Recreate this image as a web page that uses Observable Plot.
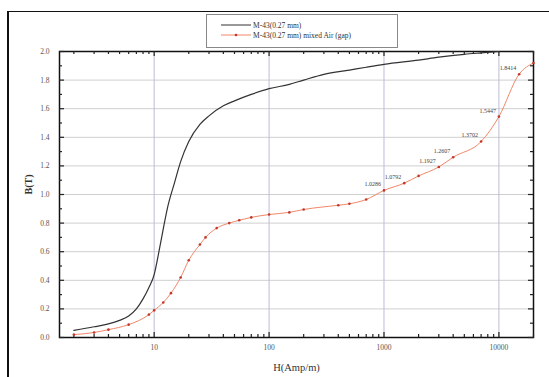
<!DOCTYPE html>
<html><head><meta charset="utf-8">
<script src="https://cdn.jsdelivr.net/npm/d3@7"></script>
<script src="https://cdn.jsdelivr.net/npm/@observablehq/plot@0.6"></script>
<style>
body{margin:0;background:#fff;}
#wrap{position:relative;width:549px;height:377px;overflow:hidden;background:#fff;font-family:"Liberation Serif","DejaVu Serif",serif;}
#chart{position:absolute;left:0;top:0;}
#frame{position:absolute;left:7px;top:11px;width:600px;height:420px;border-left:2px solid #111;border-top:1.5px solid #111;pointer-events:none;}
#legend{position:absolute;left:206px;top:14px;width:190px;height:32px;border:1px solid #888;background:#fff;font-size:7.5px;color:#333;}
#legend .row{position:absolute;left:14px;height:10px;display:flex;align-items:center;white-space:nowrap;}
#legend svg{margin-right:2px;}
</style></head><body>
<div id="wrap"><div id="chart"></div><div id="frame"></div><div id="legend"></div></div>
<script>
const seriesNames = ["M-43(0.27 mm)", "M-43(0.27 mm) mixed Air (gap)"];
// Series 1: M-43(0.27 mm)
const blackH = [2, 3, 4, 5, 6, 7, 8, 9, 10, 11, 12, 13, 15, 17, 20, 25, 30, 40, 50, 70, 100, 150, 200, 300, 500, 700, 1000, 2000, 3000, 5000, 7000, 10000];
const blackB = [0.05, 0.075, 0.095, 0.12, 0.15, 0.2, 0.27, 0.35, 0.44, 0.6, 0.76, 0.9, 1.08, 1.23, 1.37, 1.49, 1.55, 1.62, 1.655, 1.70, 1.74, 1.77, 1.80, 1.84, 1.87, 1.89, 1.91, 1.94, 1.96, 1.98, 1.99, 2.0];
// Series 2: mixed with air gap
const orangeH = [2, 3, 4, 6, 9, 10, 12, 14, 17, 20, 25, 28, 35, 45, 55, 70, 100, 150, 200, 400, 500, 700, 1000, 1500, 2000, 3000, 4000, 7000, 10000, 15000, 20000];
const orangeB = [0.02, 0.035, 0.055, 0.09, 0.16, 0.19, 0.245, 0.31, 0.42, 0.54, 0.65, 0.70, 0.765, 0.80, 0.82, 0.84, 0.86, 0.875, 0.895, 0.925, 0.935, 0.965, 1.0286, 1.0792, 1.13, 1.1927, 1.2607, 1.3702, 1.5447, 1.8414, 1.92];
// Annotated points (value labels)
const labelH = [1000, 1500, 3000, 4000, 7000, 10000, 15000];
const labelB = [1.0286, 1.0792, 1.1927, 1.2607, 1.3702, 1.5447, 1.8414];
// Ticks
const xMajor = [10, 100, 1000, 10000];
const xMinor = [2,3,4,5,6,7,8,9,20,30,40,50,60,70,80,90,200,300,400,500,600,700,800,900,2000,3000,4000,5000,6000,7000,8000,9000,20000];
const yMajor = [0, 0.2, 0.4, 0.6, 0.8, 1.0, 1.2, 1.4, 1.6, 1.8, 2.0];
const yMinor = [0.1, 0.3, 0.5, 0.7, 0.9, 1.1, 1.3, 1.5, 1.7, 1.9];

const black = blackH.map((h, i) => ({H: h, B: blackB[i]}));
const orange = orangeH.map((h, i) => ({H: h, B: orangeB[i]}));
const labels = labelH.map((h, i) => ({H: h, B: labelB[i]}));

const W = 549, Ht = 377, mL = 59, mR = 16, mT = 51, mB = 40;
const fw = W - mL - mR, fh = Ht - mT - mB;
const xDom = [1.5, 20000], yDom = [0, 2];
const tk = "#222";
const tw = 1.2;

const chart = Plot.plot({
  width: W, height: Ht,
  marginLeft: mL, marginRight: mR, marginTop: mT, marginBottom: mB,
  style: {background: "transparent", fontFamily: "'Liberation Serif', 'DejaVu Serif', serif", color: "#555"},
  x: {type: "log", domain: xDom},
  y: {domain: yDom},
  marks: [
    Plot.gridY(yMajor, {stroke: "#cfcfcf", strokeOpacity: 1}),
    Plot.gridX(xMajor, {stroke: "#bcbcd8", strokeOpacity: 1}),
    Plot.axisY(yMajor, {tickSize: 0, tickPadding: 10, tickFormat: d => d.toFixed(1), fontSize: 7.5, label: null}),
    Plot.axisX(xMajor, {tickSize: 0, tickPadding: 7, tickFormat: d => String(d), fontSize: 7.5, label: null}),
    Plot.frame({stroke: "#111", strokeWidth: 1.5}),
    // inward ticks on all four sides
    Plot.tickY(yMajor, {y: d => d, insetRight: fw - 5, stroke: tk, strokeWidth: tw}),
    Plot.tickY(yMinor, {y: d => d, insetRight: fw - 3, stroke: tk, strokeWidth: tw}),
    Plot.tickY(yMajor, {y: d => d, insetLeft: fw - 5, stroke: tk, strokeWidth: tw}),
    Plot.tickY(yMinor, {y: d => d, insetLeft: fw - 3, stroke: tk, strokeWidth: tw}),
    Plot.tickX(xMajor, {x: d => d, insetTop: fh - 5, stroke: tk, strokeWidth: tw}),
    Plot.tickX(xMinor, {x: d => d, insetTop: fh - 3, stroke: tk, strokeWidth: tw}),
    Plot.tickX(xMajor, {x: d => d, insetBottom: fh - 5, stroke: tk, strokeWidth: tw}),
    Plot.tickX(xMinor, {x: d => d, insetBottom: fh - 3, stroke: tk, strokeWidth: tw}),
    Plot.line(black, {x: "H", y: "B", stroke: "#333", strokeWidth: 1.2, curve: "monotone-x"}),
    Plot.line(orange, {x: "H", y: "B", stroke: "#f2876a", strokeWidth: 1, curve: "monotone-x"}),
    Plot.dot(orange, {x: "H", y: "B", r: 1.3, fill: "#c0392b", stroke: null}),
    Plot.text(labels, {x: "H", y: "B", text: d => d.B.toFixed(4), textAnchor: "end", dx: -3, dy: -6, fontSize: 6, fill: "#444"}),
    Plot.text(["B(T)"], {frameAnchor: "left", dx: -31, rotate: -90, fontSize: 10, fontWeight: "bold", fill: "#333"}),
    Plot.text(["H(Amp/m)"], {frameAnchor: "bottom", dy: 33, fontSize: 10.5, fill: "#333"})
  ]
});
document.getElementById("chart").appendChild(chart);

const leg = document.getElementById("legend");
leg.innerHTML = `
<div class="row" style="top:5px"><svg width="30" height="6"><line x1="0" y1="3" x2="30" y2="3" stroke="#333" stroke-width="1"/></svg><span>${seriesNames[0]}</span></div>
<div class="row" style="top:15px"><svg width="30" height="6"><line x1="0" y1="3" x2="30" y2="3" stroke="#f2876a" stroke-width="1"/><circle cx="15" cy="3" r="1.3" fill="#c0392b"/></svg><span>${seriesNames[1]}</span></div>`;
</script>
</body></html>
